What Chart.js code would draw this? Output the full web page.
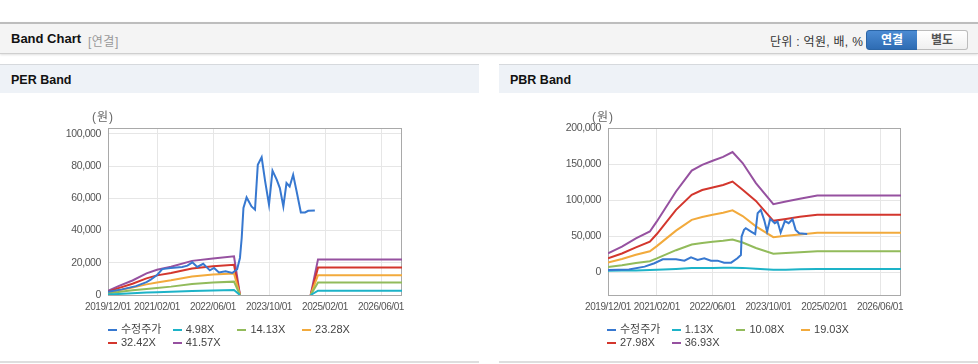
<!DOCTYPE html>
<html lang="ko">
<head>
<meta charset="utf-8">
<title>Band Chart</title>
<script src="https://cdn.jsdelivr.net/npm/chart.js@4.4.1/dist/chart.umd.min.js"></script>
<style>
  body { margin: 0; width: 978px; height: 364px; position: relative; overflow: hidden; background: #fff;
         font-family: "Liberation Sans", "Noto Sans CJK KR", Arial, sans-serif; color: #222; }
  .abs { position: absolute; }
  .head { left: 0; top: 22px; width: 978px; height: 29px; background: #f4f4f4;
          border-top: 2px solid #bdbdbd; border-bottom: 1px solid #cfcfcf; box-shadow: 0 1px 2px rgba(0,0,0,0.12); }
  .head .title { left: 11px; top: 7px; font-size: 13px; font-weight: bold; color: #111; }
  .head .sub { left: 88px; top: 8px; font-size: 12px; color: #999; letter-spacing: 0.5px; }
  .head .unit { left: 770px; top: 8px; font-size: 12px; color: #333; letter-spacing: 0.3px; }
  .btn { top: 6px; height: 18px; line-height: 18px; font-size: 12px; font-weight: bold; text-align: center; }
  .btn.on { left: 866px; width: 50px; color: #fff; background: linear-gradient(#4b8bd3, #2e6cb3);
            border: 1px solid #2b65a6; border-radius: 3px 0 0 3px; }
  .btn.off { left: 917px; width: 50px; color: #555; background: linear-gradient(#fff, #f0f0f0);
             border: 1px solid #bcbcbc; border-left: none; border-radius: 0 3px 3px 0; }
  .panel-title { top: 64px; height: 28px; width: 479px; background: #eef2f7; border-top: 1px solid #d6d9dd; }
  .panel-title span { position: absolute; left: 11px; top: 8px; font-size: 12.5px; font-weight: bold; color: #111; }
  .panel-foot { top: 361px; height: 2px; width: 479px; background: #dedede; }
  canvas { position: absolute; top: 93px; }
  .legend { top: 323px; width: 270px; font-size: 11px; color: #444; line-height: 13px; }
  .legend div { display: inline-block; width: 64.7px; white-space: nowrap; }
  .legend i { display: inline-block; width: 9px; height: 2px; margin-right: 4px; vertical-align: middle; }
</style>
</head>
<body>
<div class="abs head">
  <div class="abs title">Band Chart</div>
  <div class="abs sub">[연결]</div>
  <div class="abs unit">단위 : 억원, 배, %</div>
  <div class="abs btn on">연결</div>
  <div class="abs btn off">별도</div>
</div>

<div class="abs panel-title" style="left:0"><span>PER Band</span></div>
<div class="abs panel-title" style="left:499px"><span>PBR Band</span></div>

<canvas id="perChart" width="479" height="232" style="left:0"></canvas>
<canvas id="pbrChart" width="479" height="232" style="left:499px"></canvas>

<div class="abs legend" id="perLegend" style="left:108px"></div>
<div class="abs legend" id="pbrLegend" style="left:607px"></div>

<div class="abs panel-foot" style="left:0"></div>
<div class="abs panel-foot" style="left:499px"></div>

<script>
const tickLabels = ['2019/12/01', '2021/02/01', '2022/06/01', '2023/10/01', '2025/02/01', '2026/06/01'];
const xStart = '2019/12/01';
const xEnd = '2026/12/01';

const colors = ['#3778d0', '#1db3c8', '#92bb5b', '#f2aa3c', '#d3362d', '#9651a0'];
const perNames = ['수정주가', '4.98X', '14.13X', '23.28X', '32.42X', '41.57X'];
const pbrNames = ['수정주가', '1.13X', '10.08X', '19.03X', '27.98X', '36.93X'];

// PER 수정주가 [날짜, 원]
const perPrice = [
    ['2019/12/01', 2000], ['2020/04/01', 3500], ['2020/08/01', 5500], ['2020/11/01', 8000],
    ['2020/12/07', 9500], ['2021/02/04', 12600], ['2021/03/16', 16100], ['2021/05/28', 16800],
    ['2021/09/07', 17400], ['2021/10/22', 18200], ['2021/12/04', 20250], ['2022/01/16', 17400],
    ['2022/03/07', 19400], ['2022/05/04', 15300], ['2022/06/10', 16800], ['2022/07/22', 14000],
    ['2022/09/19', 14700], ['2022/11/16', 13650], ['2022/12/28', 16000], ['2023/01/22', 23000],
    ['2023/02/07', 35400], ['2023/02/22', 54000], ['2023/03/19', 60600], ['2023/05/01', 55000],
    ['2023/06/01', 53000], ['2023/06/25', 80900], ['2023/07/28', 85500], ['2023/08/28', 70500],
    ['2023/10/01', 56100], ['2023/11/01', 77200], ['2023/12/07', 71600], ['2024/01/04', 66400],
    ['2024/02/04', 55000], ['2024/03/01', 69500], ['2024/03/28', 67400], ['2024/04/28', 74700],
    ['2024/05/28', 64300], ['2024/07/04', 51300], ['2024/08/10', 51300], ['2024/09/07', 52300],
    ['2024/11/04', 52500]
];

// PER 밴드 (null = 끊김)
const perBandDates = ['2019/12/01', '2020/03/01', '2020/07/01', '2020/11/01', '2021/02/01', '2021/06/01',
    '2021/12/01', '2022/06/01', '2022/12/01', '2023/01/22', '2023/11/01', '2024/09/28', '2024/12/01', '2026/12/01'];
const perBand1 = [300, 650, 1100, 1500, 1700, 2000, 2500, 2800, 3100, 0, null, 0, 2700, 2700];
const perBand2 = [850, 1800, 2900, 3800, 4400, 5200, 6900, 7700, 8300, 0, null, 0, 7700, 7700];
const perBand3 = [1400, 3000, 4700, 6600, 7800, 9100, 11500, 12700, 13300, 0, null, 0, 12300, 12300];
const perBand4 = [1950, 4300, 7000, 10300, 12200, 13700, 16500, 17800, 18800, 0, null, 0, 17000, 17000];
const perBand5 = [2500, 5500, 9000, 13400, 15700, 17500, 21200, 22700, 24000, 0, null, 0, 22100, 22100];

// PBR 수정주가
const pbrPrice = [
    ['2019/12/01', 3200], ['2020/06/01', 4000], ['2020/10/16', 7800], ['2021/01/10', 12500],
    ['2021/03/22', 18000], ['2021/07/16', 18000], ['2021/09/28', 16100], ['2021/11/25', 20800],
    ['2022/01/22', 17100], ['2022/03/19', 19400], ['2022/05/16', 16100], ['2022/07/13', 16100],
    ['2022/09/10', 13300], ['2022/11/10', 13300], ['2023/01/04', 19400], ['2023/02/04', 24000],
    ['2023/02/10', 49500], ['2023/03/01', 58800], ['2023/03/16', 61100], ['2023/05/01', 56400],
    ['2023/06/07', 52800], ['2023/06/28', 81900], ['2023/07/25', 86500], ['2023/08/25', 72000],
    ['2023/09/19', 56400], ['2023/10/16', 74000], ['2023/11/25', 68000], ['2023/12/19', 70300],
    ['2024/01/16', 55000], ['2024/02/22', 71000], ['2024/03/25', 68000], ['2024/04/28', 73500],
    ['2024/05/25', 58800], ['2024/06/25', 54200], ['2024/09/04', 53200]
];

const pbrBandDates = ['2019/12/01', '2020/04/01', '2020/08/01', '2020/12/01', '2021/02/01', '2021/07/16',
    '2021/12/01', '2022/03/01', '2022/06/01', '2022/09/01', '2022/11/22', '2023/02/19', '2023/06/13',
    '2023/11/13', '2024/03/01', '2024/07/01', '2024/12/01', '2026/12/01'];
const pbrBand1 = [2000, 2300, 2600, 3000, 3400, 4500, 5800, 6000, 6100, 6200, 6400, 6100, 4800, 3500, 3600, 4300, 4600, 4600];
const pbrBand2 = [7200, 9700, 12800, 15400, 19200, 30600, 38500, 40700, 42200, 43700, 45500, 41300, 33700, 25800, 26800, 27800, 29000, 29000];
const pbrBand3 = [13600, 18300, 24200, 29100, 36300, 57700, 72600, 76700, 79600, 82400, 85900, 78000, 63700, 48700, 50500, 52500, 54800, 54800];
const pbrBand4 = [19400, 26000, 34500, 42500, 53000, 86500, 107400, 114000, 117500, 121000, 125800, 114300, 99000, 71300, 74000, 77000, 79800, 79800];
const pbrBand5 = [26400, 35500, 47000, 56500, 70500, 112000, 141000, 149000, 154600, 160000, 166700, 151400, 123600, 94500, 98100, 102000, 106400, 106400];

const perYTicks = [0, 20000, 40000, 60000, 80000, 100000];
const pbrYTicks = [0, 50000, 100000, 150000, 200000];

// 2019/12/01 기준 개월 수
function toMonth(s) {
    const [y, m, d] = s.split('/').map(Number);
    return (y - 2019) * 12 + (m - 12) + (d - 1) / 30;
}

function fromPairs(arr) {
    return arr.map(p => ({ x: toMonth(p[0]), y: p[1] }));
}

function fromDates(dates, values) {
    return dates.map((d, i) => ({ x: toMonth(d), y: values[i] }));
}

Chart.defaults.font.family = "'Liberation Sans', Arial, sans-serif";
Chart.defaults.font.size = 10;

// 테두리 + (원) 표시, 눈금 글자 간격 좁게
const framePlugin = {
    id: 'frame',
    beforeDraw(chart) {
        chart.ctx.letterSpacing = '-0.4px';
    },
    beforeDatasetsDraw(chart) {
        const { ctx, chartArea: a } = chart;
        ctx.save();
        ctx.strokeStyle = '#a9a9a9';
        ctx.lineWidth = 1;
        ctx.strokeRect(Math.round(a.left) + 0.5, Math.round(a.top) + 0.5, Math.round(a.width) - 1, Math.round(a.height));
        ctx.restore();
    },
    afterDraw(chart) {
        const { ctx, chartArea: a } = chart;
        ctx.save();
        ctx.letterSpacing = '1px';
        ctx.font = "12px 'Liberation Sans', 'Noto Sans CJK KR', sans-serif";
        ctx.fillStyle = '#666';
        ctx.textAlign = 'center';
        ctx.textBaseline = 'middle';
        ctx.fillText('(원)', a.left - 5, a.top - 10);
        ctx.restore();
    }
};

function makeChart(id, datasets, yMin, yMax, yTicks, padLeft) {
    const ctx = document.getElementById(id).getContext('2d');
    return new Chart(ctx, {
        type: 'line',
        data: { datasets: datasets },
        options: {
            responsive: false,
            animation: false,
            layout: { padding: { left: padLeft, right: 77, top: 35, bottom: 10 } },
            elements: {
                point: { radius: 0 },
                line: { borderWidth: 2, tension: 0 }
            },
            plugins: {
                legend: { display: false },
                tooltip: { enabled: false }
            },
            scales: {
                x: {
                    type: 'linear',
                    min: toMonth(xStart),
                    max: toMonth(xEnd),
                    afterBuildTicks: s => { s.ticks = tickLabels.map(t => ({ value: toMonth(t) })); },
                    afterFit: s => { s.height = 20; },
                    ticks: {
                        autoSkip: false,
                        maxRotation: 0,
                        color: '#555',
                        padding: 6,
                        callback: (v, i) => tickLabels[i]
                    },
                    grid: { color: '#e6e6e6', drawTicks: false },
                    border: { display: false }
                },
                y: {
                    min: yMin,
                    max: yMax,
                    afterBuildTicks: s => { s.ticks = yTicks.map(v => ({ value: v })); },
                    afterFit: s => { s.width = 50; },
                    ticks: {
                        color: '#555',
                        padding: 7,
                        font: { size: 10.5 },
                        callback: v => v.toLocaleString('en-US')
                    },
                    grid: { color: '#e6e6e6', drawTicks: false },
                    border: { display: false }
                }
            }
        },
        plugins: [framePlugin]
    });
}

function lineSet(label, data, color) {
    return { label: label, data: data, borderColor: color, backgroundColor: color, fill: false, spanGaps: false };
}

const perSets = [
    lineSet(perNames[0], fromPairs(perPrice), colors[0]),
    lineSet(perNames[1], fromDates(perBandDates, perBand1), colors[1]),
    lineSet(perNames[2], fromDates(perBandDates, perBand2), colors[2]),
    lineSet(perNames[3], fromDates(perBandDates, perBand3), colors[3]),
    lineSet(perNames[4], fromDates(perBandDates, perBand4), colors[4]),
    lineSet(perNames[5], fromDates(perBandDates, perBand5), colors[5])
];

const pbrSets = [
    lineSet(pbrNames[0], fromPairs(pbrPrice), colors[0]),
    lineSet(pbrNames[1], fromDates(pbrBandDates, pbrBand1), colors[1]),
    lineSet(pbrNames[2], fromDates(pbrBandDates, pbrBand2), colors[2]),
    lineSet(pbrNames[3], fromDates(pbrBandDates, pbrBand3), colors[3]),
    lineSet(pbrNames[4], fromDates(pbrBandDates, pbrBand4), colors[4]),
    lineSet(pbrNames[5], fromDates(pbrBandDates, pbrBand5), colors[5])
];

makeChart('perChart', perSets, 0, 103700, perYTicks, 58);
makeChart('pbrChart', pbrSets, -31500, 200000, pbrYTicks, 59);

// 범례
function buildLegend(id, names) {
    const box = document.getElementById(id);
    names.forEach((n, i) => {
        const item = document.createElement('div');
        const mark = document.createElement('i');
        mark.style.background = colors[i];
        item.appendChild(mark);
        item.appendChild(document.createTextNode(n));
        box.appendChild(item);
    });
}
buildLegend('perLegend', perNames);
buildLegend('pbrLegend', pbrNames);
</script>
</body>
</html>
